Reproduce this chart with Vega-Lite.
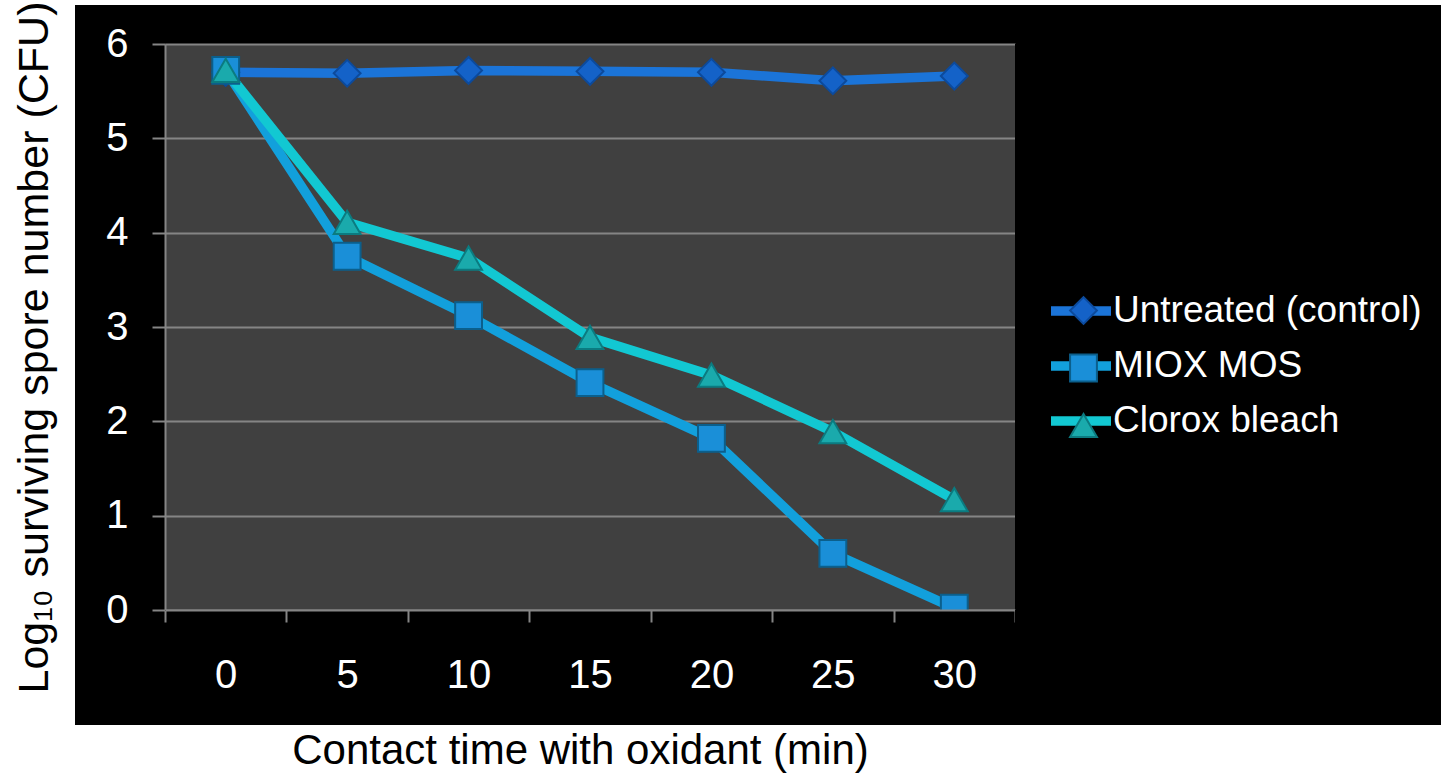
{
  "$schema": "https://vega.github.io/schema/vega-lite/v6.json",
  "background": "white",
  "padding": {"left": 13, "top": 1, "right": 0, "bottom": 0},
  "datasets": {
    "pts": [
      {"t": 0, "v": 5.70, "s": "Untreated (control)"},
      {"t": 5, "v": 5.69, "s": "Untreated (control)"},
      {"t": 10, "v": 5.72, "s": "Untreated (control)"},
      {"t": 15, "v": 5.71, "s": "Untreated (control)"},
      {"t": 20, "v": 5.70, "s": "Untreated (control)"},
      {"t": 25, "v": 5.61, "s": "Untreated (control)"},
      {"t": 30, "v": 5.66, "s": "Untreated (control)"},
      {"t": 0, "v": 5.72, "s": "MIOX MOS"},
      {"t": 5, "v": 3.75, "s": "MIOX MOS"},
      {"t": 10, "v": 3.12, "s": "MIOX MOS"},
      {"t": 15, "v": 2.41, "s": "MIOX MOS"},
      {"t": 20, "v": 1.82, "s": "MIOX MOS"},
      {"t": 25, "v": 0.60, "s": "MIOX MOS"},
      {"t": 30, "v": 0.02, "s": "MIOX MOS"},
      {"t": 0, "v": 5.72, "s": "Clorox bleach"},
      {"t": 5, "v": 4.11, "s": "Clorox bleach"},
      {"t": 10, "v": 3.73, "s": "Clorox bleach"},
      {"t": 15, "v": 2.89, "s": "Clorox bleach"},
      {"t": 20, "v": 2.49, "s": "Clorox bleach"},
      {"t": 25, "v": 1.89, "s": "Clorox bleach"},
      {"t": 30, "v": 1.17, "s": "Clorox bleach"}
    ]
  },
  "spacing": 0,
  "bounds": "flush",
  "columns": 3,
  "concat": [
    {"width": 90, "height": 39, "view": {"fill": "black", "stroke": null}, "data": {"values": []}, "mark": {"type": "point", "opacity": 0}},
    {"width": 850, "height": 39, "view": {"fill": "black", "stroke": null}, "data": {"values": []}, "mark": {"type": "point", "opacity": 0}},
    {"width": 426, "height": 39, "view": {"fill": "black", "stroke": null}, "data": {"values": []}, "mark": {"type": "point", "opacity": 0}},
    {"width": 90, "height": 566, "view": {"fill": "black", "stroke": null}, "data": {"values": []}, "mark": {"type": "point", "opacity": 0}},
    {
      "width": 850, "height": 566,
      "view": {"fill": "#404040", "stroke": null},
      "data": {"name": "pts"},
      "encoding": {
        "x": {"field": "t", "type": "ordinal", "scale": {"type": "point", "padding": 0.5, "domain": [0, 5, 10, 15, 20, 25, 30]}, "axis": null},
        "y": {
          "field": "v", "type": "quantitative",
          "scale": {"domain": [0, 6], "nice": false},
          "axis": {
            "values": [0, 1, 2, 3, 4, 5, 6],
            "title": null, "labels": false, "ticks": false, "domain": false,
            "grid": true, "gridColor": "#858585", "gridWidth": 2
          }
        }
      },
      "layer": [
        {
          "mark": {"type": "line", "strokeWidth": 9.5},
          "encoding": {
            "color": {
              "field": "s", "type": "nominal",
              "sort": ["Untreated (control)", "MIOX MOS", "Clorox bleach"],
              "scale": {"range": ["#1b74d8", "#12a0dc", "#12c8d2"]},
              "legend": {
                "orient": "none", "legendX": 971, "legendY": 271, "title": null, "padding": 0,
                "symbolType": "stroke", "symbolSize": 3600, "symbolStrokeWidth": 9.5,
                "labelFontSize": 37, "labelColor": "white", "labelOffset": -3, "labelLimit": 600, "rowPadding": 1
              }
            }
          }
        },
        {
          "mark": {"type": "point", "filled": true, "size": 720, "strokeWidth": 2, "opacity": 1},
          "encoding": {
            "fill": {
              "field": "s", "type": "nominal",
              "scale": {"domain": ["Untreated (control)", "MIOX MOS", "Clorox bleach"], "range": ["#1462c8", "#1a8fd8", "#1aaaac"]},
              "legend": null
            },
            "stroke": {
              "field": "s", "type": "nominal",
              "scale": {"domain": ["Untreated (control)", "MIOX MOS", "Clorox bleach"], "range": ["#0c4a9c", "#0b5f8c", "#0b7b80"]},
              "legend": null
            },
            "shape": {
              "field": "s", "type": "nominal",
              "scale": {"domain": ["Untreated (control)", "MIOX MOS", "Clorox bleach"], "range": ["diamond", "square", "triangle-up"]},
              "legend": {
                "orient": "none", "legendX": 990, "legendY": 287, "title": null, "padding": 0,
                "symbolSize": 720, "symbolStrokeWidth": 2, "symbolOpacity": 1,
                "labelFontSize": 37, "labelExpr": "''", "rowPadding": 19.5,
                "encode": {
                  "symbols": {
                    "update": {
                      "fill": {"scale": "fill", "field": "value"},
                      "stroke": {"scale": "stroke", "field": "value"},
                      "fillOpacity": {"value": 1},
                      "strokeWidth": {"value": 2}
                    }
                  }
                }
              }
            }
          }
        }
      ]
    },
    {"width": 426, "height": 566, "view": {"fill": "black", "stroke": null}, "data": {"values": []}, "mark": {"type": "point", "opacity": 0}},
    {
      "width": 90, "height": 115,
      "view": {"fill": "black", "stroke": null},
      "data": {"name": "pts"},
      "mark": {"type": "point", "opacity": 0},
      "encoding": {
        "y": {
          "field": "v", "type": "quantitative",
          "scale": {"domain": [0, 6], "nice": false, "range": [0, -566]},
          "axis": {
            "orient": "left", "offset": -90,
            "values": [0, 1, 2, 3, 4, 5, 6],
            "title": "Log₁₀ surviving spore number (CFU)",
            "titleFontSize": 43, "titleColor": "black", "titleFontWeight": "normal", "titlePadding": 49, "titleY": -263,
            "labelFontSize": 40, "labelColor": "white", "labelPadding": 24,
            "grid": false,
            "domainColor": "#858585", "domainWidth": 2,
            "tickColor": "#858585", "tickWidth": 2, "tickSize": 13
          }
        }
      }
    },
    {
      "width": 850, "height": 115,
      "view": {"fill": "black", "stroke": null},
      "data": {"name": "pts"},
      "mark": {"type": "point", "opacity": 0},
      "encoding": {
        "x": {
          "field": "t", "type": "ordinal",
          "scale": {"type": "band", "paddingInner": 0, "paddingOuter": 0, "domain": [0, 5, 10, 15, 20, 25, 30]},
          "axis": {
            "orient": "bottom", "offset": -115, "labelAngle": 0,
            "title": "Contact time with oxidant (min)",
            "titleFontSize": 42, "titleColor": "black", "titleFontWeight": "normal", "titlePadding": 35, "titleX": 415,
            "labelFontSize": 40, "labelColor": "white", "labelPadding": 33,
            "tickBand": "extent",
            "domainColor": "#858585", "domainWidth": 2,
            "tickColor": "#858585", "tickWidth": 2, "tickSize": 12
          }
        }
      }
    },
    {"width": 426, "height": 115, "view": {"fill": "black", "stroke": null}, "data": {"values": []}, "mark": {"type": "point", "opacity": 0}}
  ],
  "config": {
    "font": "Liberation Sans",
    "view": {"stroke": null}
  }
}
